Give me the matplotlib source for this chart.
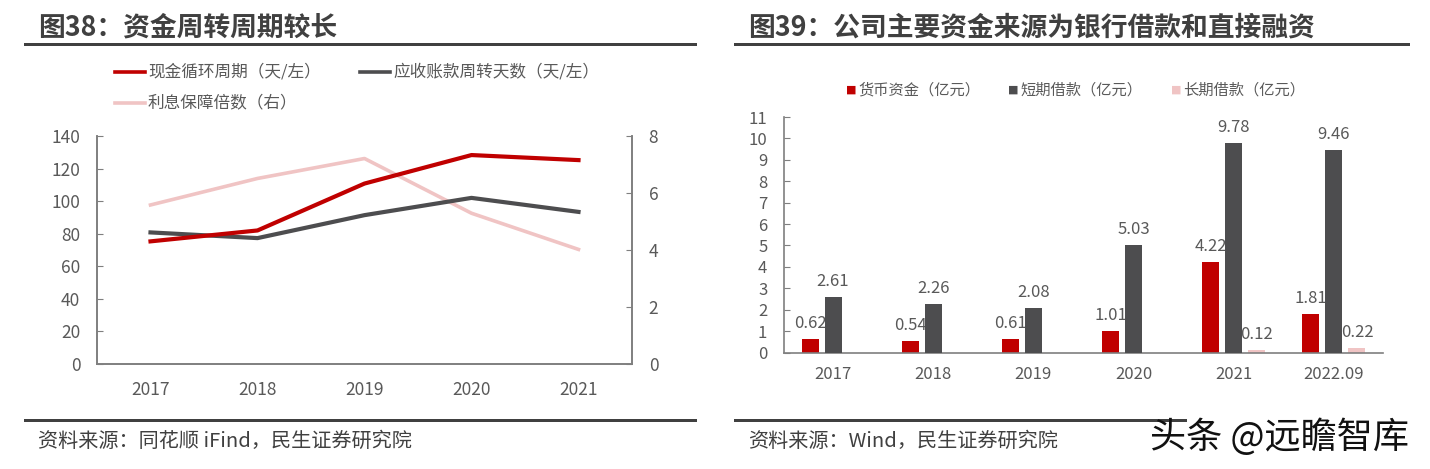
import matplotlib
matplotlib.use('Agg')
import matplotlib.pyplot as plt
from matplotlib.lines import Line2D
import numpy as np

plt.rcParams['font.family'] = ['Noto Sans CJK SC', 'DejaVu Sans']

# 图38 数据
years_l = ['2017', '2018', '2019', '2020', '2021']
cash_cycle = [75.3, 82.0, 110.8, 128.3, 125.2]      # 现金循环周期（天/左）
ar_days = [80.8, 77.3, 91.4, 102.0, 93.4]           # 应收账款周转天数（天/左）
interest_cover = [5.58, 6.51, 7.21, 5.29, 4.02]     # 利息保障倍数（右）

# 图39 数据
years_r = ['2017', '2018', '2019', '2020', '2021', '2022.09']
cash = [0.62, 0.54, 0.61, 1.01, 4.22, 1.81]         # 货币资金（亿元）
short_loan = [2.61, 2.26, 2.08, 5.03, 9.78, 9.46]   # 短期借款（亿元）
long_loan = [0, 0, 0, 0, 0.12, 0.22]                # 长期借款（亿元）

RED = '#C00000'
GRAY = '#4D4D4F'
PINK = '#F0C4C4'
TXT = '#595959'
SPINE = '#7F7F7F'

W, H = 1430, 469
fig = plt.figure(figsize=(W / 100, H / 100), dpi=100)


def fx(x):
    return x / W


def fy(y):
    return 1 - y / H


def hline(x0, x1, y, lw=3):
    fig.add_artist(Line2D([fx(x0), fx(x1)], [fy(y), fy(y)], color='#404040',
                          lw=lw * 0.72, transform=fig.transFigure))


# 标题、分隔线、来源
fig.text(fx(38), fy(28), '图38：资金周转周期较长', fontsize=19.3, fontweight='bold',
         color='#404040', va='center', ha='left')
fig.text(fx(748), fy(28), '图39：公司主要资金来源为银行借款和直接融资', fontsize=19.3,
         fontweight='bold', color='#404040', va='center', ha='left')
hline(25, 695, 44)
hline(735, 1408, 44)
hline(25, 695, 420)
hline(735, 1185, 420)
fig.text(fx(38), fy(441), '资料来源：同花顺 iFind，民生证券研究院', fontsize=14.5,
         color='#404040', va='center', ha='left')
fig.text(fx(748), fy(441), '资料来源：Wind，民生证券研究院', fontsize=14.5,
         color='#404040', va='center', ha='left')
fig.text(fx(1150), fy(437), '头条 @远瞻智库', fontsize=26, color='#111111',
         va='center', ha='left')

# ---------------- 图38 折线图 ----------------
ax = fig.add_axes([fx(97), fy(364), fx(632 - 97), (364 - 136) / H])
ax2 = ax.twinx()
x = np.arange(len(years_l))
ax.plot(x, cash_cycle, color=RED, lw=3, zorder=3)
ax.plot(x, ar_days, color=GRAY, lw=3, zorder=2)
ax2.plot(x, interest_cover, color=PINK, lw=2.6, zorder=1)
ax.set_zorder(ax2.get_zorder() + 1)
ax.patch.set_visible(False)

ax.set_xlim(-0.5, 4.5)
ax.set_ylim(0, 140)
ax.set_yticks(range(0, 141, 20))
ax2.set_ylim(0, 8)
ax2.set_yticks(range(0, 9, 2))
ax.set_xticks(x)
ax.set_xticklabels(years_l)

for a in (ax, ax2):
    a.spines['top'].set_visible(False)
    for s in ('left', 'right', 'bottom'):
        a.spines[s].set_color(SPINE)
        a.spines[s].set_linewidth(1.2)
    a.tick_params(axis='y', direction='in', length=4, color=SPINE,
                  labelsize=12.5, labelcolor=TXT, pad=12)
ax.tick_params(axis='x', length=0, labelsize=12.5, labelcolor=TXT, pad=12)

# 图38 图例
legend_items = [
    (115, 72, RED, '现金循环周期（天/左）'),
    (360, 72, GRAY, '应收账款周转天数（天/左）'),
    (115, 103, PINK, '利息保障倍数（右）'),
]
for lx, ly, c, lab in legend_items:
    fig.add_artist(Line2D([fx(lx), fx(lx + 30)], [fy(ly), fy(ly)], color=c,
                          lw=2.6, transform=fig.transFigure))
    fig.text(fx(lx + 33), fy(ly), lab, fontsize=12, color=TXT,
             va='center', ha='left')

# ---------------- 图39 柱状图 ----------------
bx = fig.add_axes([fx(784), fy(352.5), fx(1383 - 784), (352.5 - 117) / H])
xr = np.arange(len(years_r))
bw, off = 0.17, 0.23
b1 = bx.bar(xr - off, cash, bw, color=RED, zorder=1)
b2 = bx.bar(xr, short_loan, bw, color=GRAY, zorder=3)
b3 = bx.bar(xr + off, long_loan, bw, color=PINK, zorder=1)

bx.bar_label(b1, labels=[f'{v:.2f}' for v in cash], padding=5,
             fontsize=12, color=TXT, zorder=2)
bx.bar_label(b2, labels=[f'{v:.2f}' for v in short_loan], padding=5,
             fontsize=12, color=TXT, zorder=4)
bx.bar_label(b3, labels=[f'{v:.2f}' if v else '' for v in long_loan],
             padding=5, fontsize=12, color=TXT, zorder=2)

bx.set_xlim(-0.49, 5.49)
bx.set_ylim(0, 11)
bx.set_yticks(range(0, 12))
bx.set_xticks(xr)
bx.set_xticklabels(years_r)
for s in ('top', 'right'):
    bx.spines[s].set_visible(False)
for s in ('left', 'bottom'):
    bx.spines[s].set_color(SPINE)
    bx.spines[s].set_linewidth(1.2)
bx.tick_params(axis='y', direction='in', length=4, color=SPINE,
               labelsize=12, labelcolor=TXT, pad=12)
bx.tick_params(axis='x', length=0, labelsize=12, labelcolor=TXT, pad=10)

# 图39 图例
leg_r = [(851, RED, '货币资金（亿元）'), (1013, GRAY, '短期借款（亿元）'),
         (1176, PINK, '长期借款（亿元）')]
for lx, c, lab in leg_r:
    fig.text(fx(lx), fy(90), '■', fontsize=8, color=c, va='center', ha='center',
             family=['DejaVu Sans'])
    fig.text(fx(lx + 7), fy(90), lab, fontsize=11, color=TXT,
             va='center', ha='left')

fig.savefig('out.png', dpi=100)
